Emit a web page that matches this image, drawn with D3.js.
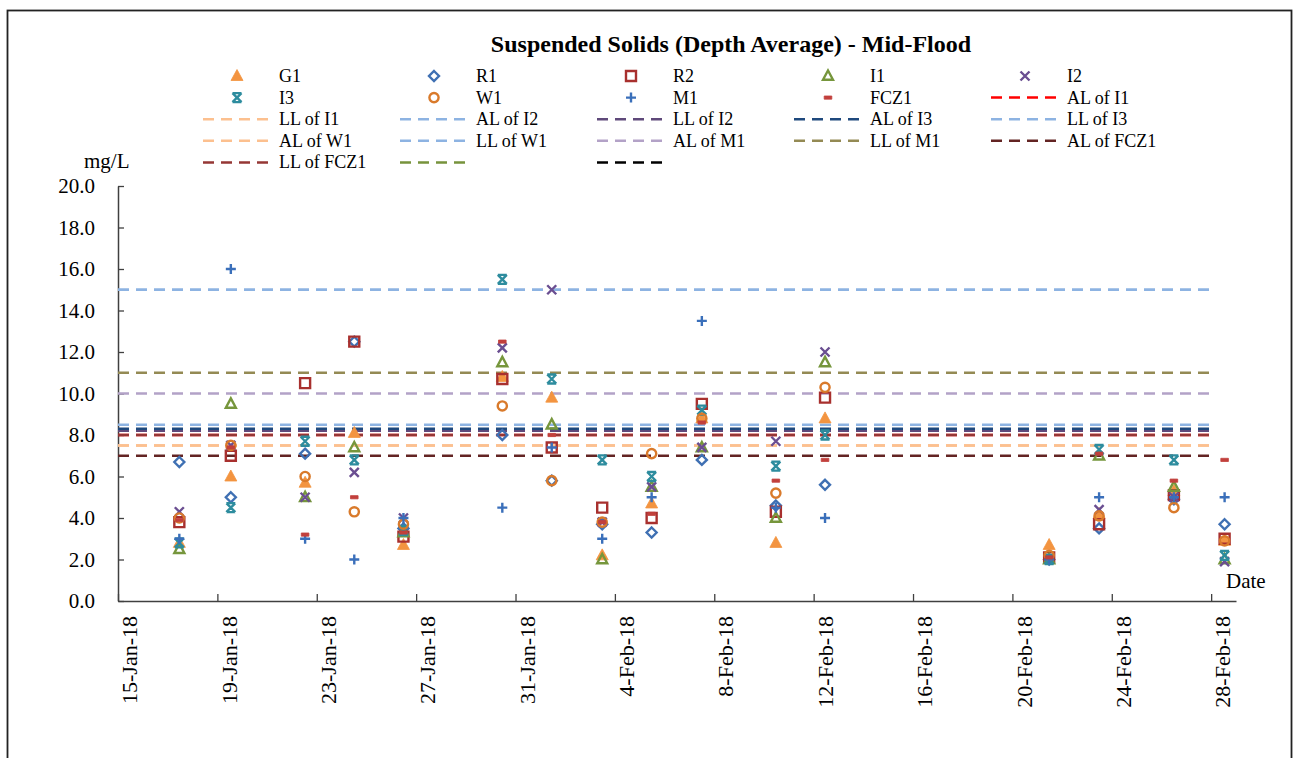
<!DOCTYPE html>
<html>
<head>
<meta charset="utf-8">
<script src="https://cdn.jsdelivr.net/npm/d3@7"></script>
<style>
  body { margin: 0; background: #fff; }
  svg text { font-family: "Liberation Serif", "Times New Roman", serif; fill: #000; }
</style>
</head>
<body>
<svg id="chart" width="1298" height="758"></svg>
<script>
// Sampling times (mid-flood runs)
const sampleTimes = [
  "2018-01-17T11:15", "2018-01-19T13:00", "2018-01-22T12:45", "2018-01-24T12:15",
  "2018-01-26T11:45", "2018-01-30T11:15", "2018-02-01T11:00", "2018-02-03T11:45",
  "2018-02-05T11:30", "2018-02-07T12:00", "2018-02-10T11:30", "2018-02-12T11:00",
  "2018-02-21T11:30", "2018-02-23T11:45", "2018-02-26T12:00", "2018-02-28T13:00"
];

// Depth-averaged suspended solids, mg/L, per station
const G1   = [2.8, 6.0, 5.7, 8.1, 2.7, 10.8, 9.8, 2.2, 4.7, 8.8, 2.8, 8.8, 2.7, 4.2, 5.3, 2.9];
const R1   = [6.7, 5.0, 7.1, 12.5, 3.5, 8.0, 5.8, 3.7, 3.3, 6.8, 4.6, 5.6, 2.0, 3.5, 4.9, 3.7];
const R2   = [3.8, 7.0, 10.5, 12.5, 3.1, 10.7, 7.4, 4.5, 4.0, 9.5, 4.3, 9.8, 2.1, 3.7, 5.1, 3.0];
const I1   = [2.5, 9.5, 5.0, 7.4, 3.3, 11.5, 8.5, 2.0, 5.5, 7.4, 4.0, 11.5, 2.0, 7.0, 5.5, 2.0];
const I2   = [4.3, 7.5, 5.0, 6.2, 4.0, 12.2, 15.0, 3.8, 5.5, 7.4, 7.7, 12.0, 2.0, 4.4, 5.0, 1.9];
const I3   = [2.8, 4.5, 7.7, 6.8, 3.4, 15.5, 10.7, 6.8, 6.0, 9.2, 6.5, 8.0, 2.0, 7.3, 6.8, 2.2];
const W1   = [4.0, 7.5, 6.0, 4.3, 3.7, 9.4, 5.8, 3.8, 7.1, 8.8, 5.2, 10.3, 2.2, 4.1, 4.5, 2.9];
const M1   = [3.0, 16.0, 3.0, 2.0, 4.0, 4.5, 7.4, 3.0, 5.0, 13.5, 4.5, 4.0, 2.0, 5.0, 5.0, 5.0];
const FCZ1 = [3.9, 7.4, 3.2, 5.0, 3.3, 12.5, 8.0, 3.8, 4.2, 8.6, 5.8, 6.8, 2.1, 7.1, 5.8, 6.8];

const stationNames  = ["G1", "R1", "R2", "I1", "I2", "I3", "W1", "M1", "FCZ1"];
const stationValues = [G1, R1, R2, I1, I2, I3, W1, M1, FCZ1];
const stationMarks  = ["triangleFilled", "diamond", "square", "triangle", "times", "star", "circle", "plus", "dash"];
const stationColors = ["#F39440", "#3F70B3", "#A8302E", "#76963C", "#6A4E91", "#2D8C9E", "#D97A2B", "#3A6FBA", "#C2403C"];

// Action / limit levels, mg/L
const limitNames  = ["AL of I1", "LL of I1", "AL of I2", "LL of I2", "AL of I3", "LL of I3",
                     "AL of W1", "LL of W1", "AL of M1", "LL of M1", "AL of FCZ1", "LL of FCZ1", "", ""];
const limitLevels = [8.0, 7.5, 15.0, 8.2, 8.3, 8.5, 7.5, 15.0, 10.0, 11.0, 7.0, 8.0, null, null];
const limitColors = ["#FF0000", "#FCC08F", "#8DB3E2", "#5F497A", "#1F497D", "#8DB3E2",
                     "#FCC08F", "#8DB3E2", "#B3A2C7", "#948A54", "#632423", "#953735", "#77933C", "#000000"];
const limitSpan = ["2018-01-15", "2018-02-28"];

const xDomain = ["2018-01-15", "2018-03-01"];
const xTickDates = ["2018-01-15", "2018-01-19", "2018-01-23", "2018-01-27", "2018-01-31", "2018-02-04",
                    "2018-02-08", "2018-02-12", "2018-02-16", "2018-02-20", "2018-02-24", "2018-02-28"];
const yTicks = [0, 2, 4, 6, 8, 10, 12, 14, 16, 18, 20];

const parseTime = d3.timeParse("%Y-%m-%dT%H:%M");
const parseDay = d3.timeParse("%Y-%m-%d");

const svg = d3.select("#chart");

// outer chart frame
svg.append("rect")
  .attr("x", 7.5).attr("y", 10.5).attr("width", 1284).attr("height", 800)
  .attr("fill", "none").attr("stroke", "#222").attr("stroke-width", 1.8);

const x = d3.scaleTime().domain(xDomain.map(parseDay)).range([118, 1236]);
const y = d3.scaleLinear().domain([0, 20]).range([601, 186]);

// title
svg.append("text")
  .attr("x", 731).attr("y", 52)
  .attr("text-anchor", "middle")
  .style("font-size", "24px").style("font-weight", "bold")
  .text("Suspended Solids (Depth Average) - Mid-Flood");

// marker shapes
function markPath(kind) {
  switch (kind) {
    case "triangleFilled": return "M0,-6.5L6,4.5L-6,4.5Z";
    case "triangle": return "M0,-5.5L5,3.8L-5,3.8Z";
    case "diamond": return "M0,-5L5,0L0,5L-5,0Z";
    case "square": return "M-5,-5H5V5H-5Z";
    case "times": return "M-4.5,-4.5L4.5,4.5M4.5,-4.5L-4.5,4.5";
    case "star": return "M-4.5,-4.5L4.5,4.5M4.5,-4.5L-4.5,4.5M-4.5,-4.5H4.5M-4.5,4.5H4.5";
    case "circle": return "M4.6,0A4.6,4.6 0 1,1 -4.6,0A4.6,4.6 0 1,1 4.6,0Z";
    case "plus": return "M-5,0H5M0,-5V5";
    case "dash": return "M-3.8,-1.6H3.8V1.6H-3.8Z";
  }
}
function styleMark(sel, kind, color) {
  const filled = kind === "triangleFilled" || kind === "dash";
  sel.attr("d", markPath(kind))
    .attr("fill", filled ? color : "none")
    .attr("stroke", color)
    .attr("stroke-width", filled ? 0.8 : 2.4)
    .attr("stroke-linejoin", "miter");
}

// legend
const legendItems = [];
stationNames.forEach((n, i) => legendItems.push({ type: "mark", name: n, kind: stationMarks[i], color: stationColors[i] }));
limitNames.forEach((n, i) => legendItems.push({ type: "line", name: n, color: limitColors[i] }));

const legend = svg.append("g");
legendItems.forEach((d, i) => {
  const col = i % 5, row = Math.floor(i / 5);
  const x0 = 203 + col * 197, cy = 76 + row * 21.6;
  const g = legend.append("g").attr("transform", `translate(${x0},${cy})`);
  if (d.type === "mark") {
    g.append("path").attr("transform", "translate(34,0)").call(styleMark, d.kind, d.color);
  } else {
    g.append("line").attr("x1", 0).attr("x2", 65).attr("y1", 0).attr("y2", 0)
      .attr("stroke", d.color).attr("stroke-width", 2.5).attr("stroke-dasharray", "11,7");
  }
  g.append("text").attr("x", 76).attr("y", 6).style("font-size", "18px").text(d.name);
});

// axes
const xAxis = d3.axisBottom(x)
  .tickValues(xTickDates.map(parseDay))
  .tickSize(-7).tickSizeOuter(0)
  .tickFormat(d3.timeFormat("%-d-%b-%y"));
const gx = svg.append("g").attr("transform", "translate(0,601)").call(xAxis);
gx.select(".domain").attr("stroke", "#404040").attr("stroke-width", 1.5);
gx.selectAll(".tick line").attr("stroke", "#404040").attr("stroke-width", 1.3);
gx.selectAll(".tick text")
  .attr("transform", "rotate(-90)")
  .attr("x", -15).attr("y", 11).attr("dy", "0.35em")
  .attr("text-anchor", "end")
  .style("font-size", "22px").style("font-family", "'Liberation Serif', serif").attr("fill", "#000");

const yAxis = d3.axisLeft(y).tickValues(yTicks).tickSize(-6).tickSizeOuter(0).tickPadding(23)
  .tickFormat(d3.format(".1f"));
const gy = svg.append("g").attr("transform", "translate(118,0)").call(yAxis);
gy.select(".domain").attr("stroke", "#404040").attr("stroke-width", 1.5);
gy.selectAll(".tick line").attr("stroke", "#404040").attr("stroke-width", 1.3);
gy.selectAll(".tick text")
  .style("font-size", "21px").style("font-family", "'Liberation Serif', serif").attr("fill", "#000");

svg.append("text").attr("x", 84).attr("y", 168).style("font-size", "21px").text("mg/L");
svg.append("text").attr("x", 1226).attr("y", 588).style("font-size", "21px").text("Date");

// limit lines
const span = limitSpan.map(parseDay);
const gl = svg.append("g");
limitLevels.forEach((v, i) => {
  if (v === null) return;
  gl.append("line")
    .attr("x1", x(span[0])).attr("x2", x(span[1]))
    .attr("y1", y(v)).attr("y2", y(v))
    .attr("stroke", limitColors[i]).attr("stroke-width", 2.5)
    .attr("stroke-dasharray", "11,7");
});

// station points
const times = sampleTimes.map(parseTime);
stationValues.forEach((vals, s) => {
  svg.append("g").selectAll("path")
    .data(vals.map((v, i) => ({ t: times[i], v })))
    .join("path")
    .attr("transform", d => `translate(${x(d.t)},${y(d.v)})`)
    .call(styleMark, stationMarks[s], stationColors[s]);
});
</script>
</body>
</html>
